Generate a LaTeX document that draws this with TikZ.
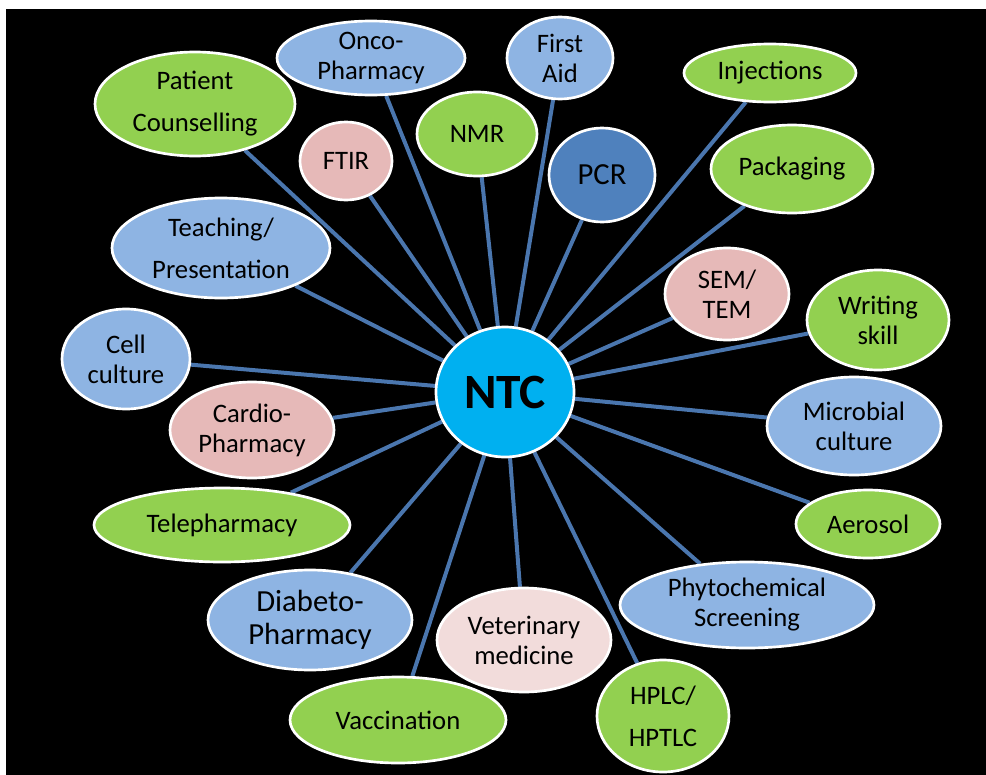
\documentclass[tikz,border=0pt]{standalone}
\usepackage{fontspec}
\setmainfont{Carlito}
\usetikzlibrary{shapes.geometric,backgrounds}

\definecolor{bubgreen}{HTML}{92D050}
\definecolor{bubblue}{HTML}{8EB4E3}
\definecolor{bubpink}{HTML}{E6B9B8}
\definecolor{bubpale}{HTML}{F2DCDB}
\definecolor{pcrblue}{HTML}{4F81BD}
\definecolor{hubcyan}{HTML}{00B0F0}
\definecolor{spokeblue}{HTML}{4A76AE}

\tikzset{every picture/.style={line width=0.75pt}}
\tikzset{
  bubble/.style={ellipse, draw=white, line width=2pt, inner sep=0pt, align=center, text=black, font=\fontsize{20}{22.5}\selectfont},
  spoke/.style={draw=spokeblue, line width=3pt},
}

\begin{document}
\begin{tikzpicture}[x=0.75pt,y=0.75pt,yscale=-1,xscale=1]
\useasboundingbox (0,0) rectangle (986,775);

%Shape: Ellipse [hub]
\node (ntc) [bubble, fill=hubcyan, minimum width=103.5pt, minimum height=97.5pt, font=\fontsize{37}{40}\selectfont\bfseries] at (505,392) {NTC};

%Shape: Ellipse [upper left]
\node (pc) [bubble, fill=bubgreen, minimum width=150pt, minimum height=78pt] at (195,104) {Patient\\[9pt]Counselling};
\node (onco) [bubble, fill=bubblue, minimum width=141pt, minimum height=55.5pt] at (371,58) {Onco-\\Pharmacy};
\node (ftir) [bubble, fill=bubpink, minimum width=69pt, minimum height=58.5pt] at (346,161) {FTIR};
\node (teach) [bubble, fill=bubblue, minimum width=163.5pt, minimum height=75pt] at (221,248) {Teaching/\\[9pt]Presentation};

%Shape: Ellipse [upper middle]
\node (fa) [bubble, fill=bubblue, minimum width=79.5pt, minimum height=61.5pt] at (560,58) {First\\Aid};
\node (nmr) [bubble, fill=bubgreen, minimum width=90pt, minimum height=63pt] at (477,134) {NMR};
\node (pcr) [bubble, fill=pcrblue, minimum width=79.5pt, minimum height=70.5pt, font=\fontsize{23}{25}\selectfont] at (602,175) {PCR};

%Shape: Ellipse [right]
\node (inj) [bubble, fill=bubgreen, minimum width=129pt, minimum height=43.5pt] at (770,73) {Injections};
\node (pack) [bubble, fill=bubgreen, minimum width=121.5pt, minimum height=66pt] at (792,169) {Packaging};
\node (sem) [bubble, fill=bubpink, minimum width=93pt, minimum height=69pt] at (727,294) {SEM/\\TEM};
\node (ws) [bubble, fill=bubgreen, minimum width=106.5pt, minimum height=75pt] at (878,320) {Writing\\skill};
\node (mic) [bubble, fill=bubblue, minimum width=130.5pt, minimum height=73.5pt] at (854,426) {Microbial\\culture};
\node (aer) [bubble, fill=bubgreen, minimum width=108pt, minimum height=51pt] at (868,524) {Aerosol};
\node (phy) [bubble, fill=bubblue, minimum width=190.5pt, minimum height=64.5pt] at (747,605) {Phytochemical\\Screening};

%Shape: Ellipse [bottom]
\node (hplc) [bubble, fill=bubgreen, minimum width=99pt, minimum height=84pt] at (663,716) {HPLC/\\[9pt]HPTLC};
\node (vet) [bubble, fill=bubpale, minimum width=130.5pt, minimum height=78pt] at (524,640) {Veterinary\\medicine};
\node (vac) [bubble, fill=bubgreen, minimum width=162pt, minimum height=64.5pt] at (398,720) {Vaccination};
\node (dia) [bubble, fill=bubblue, minimum width=153pt, minimum height=75pt, font=\fontsize{23}{24.75}\selectfont] at (310,620) {Diabeto-\\Pharmacy};

%Shape: Ellipse [left]
\node (tele) [bubble, fill=bubgreen, minimum width=192pt, minimum height=55.5pt] at (222,525) {Telepharmacy};
\node (cardio) [bubble, fill=bubpink, minimum width=123pt, minimum height=72pt] at (252,430) {Cardio-\\Pharmacy};
\node (cell) [bubble, fill=bubblue, minimum width=96pt, minimum height=75pt] at (126,359) {Cell\\culture};

\begin{scope}[on background layer]
%Shape: Rectangle [page]
\fill [white] (0,0) rectangle (986,775);
\fill [black] (6,9) rectangle (986,775);

%Straight Lines
\draw [spoke] (pc) -- (ntc);
\draw [spoke] (onco) -- (ntc);
\draw [spoke] (ftir) -- (ntc);
\draw [spoke] (teach) -- (ntc);
\draw [spoke] (fa) -- (ntc);
\draw [spoke] (nmr) -- (ntc);
\draw [spoke] (pcr) -- (ntc);
\draw [spoke] (inj) -- (ntc);
\draw [spoke] (pack) -- (ntc);
\draw [spoke] (sem) -- (ntc);
\draw [spoke] (ws) -- (ntc);
\draw [spoke] (mic) -- (ntc);
\draw [spoke] (aer) -- (ntc);
\draw [spoke] (phy) -- (ntc);
\draw [spoke] (hplc) -- (ntc);
\draw [spoke] (vet) -- (ntc);
\draw [spoke] (vac) -- (ntc);
\draw [spoke] (dia) -- (ntc);
\draw [spoke] (tele) -- (ntc);
\draw [spoke] (cardio) -- (ntc);
\draw [spoke] (cell) -- (ntc);
\end{scope}

\end{tikzpicture}
\end{document}
